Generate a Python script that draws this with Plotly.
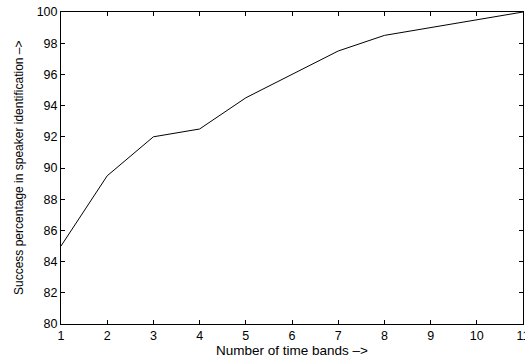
import plotly.graph_objects as go

bands = [1, 2, 3, 4, 5, 6, 7, 8, 9, 10, 11]
success = [85.0, 89.5, 92.0, 92.5, 94.5, 96.0, 97.5, 98.5, 99.0, 99.5, 100.0]
x_ticks = [1, 2, 3, 4, 5, 6, 7, 8, 9, 10, 11]
y_ticks = [80, 82, 84, 86, 88, 90, 92, 94, 96, 98, 100]

FONT = "Liberation Sans, Arial, Helvetica"

fig = go.Figure()
fig.add_trace(go.Scatter(x=bands, y=success, mode="lines",
                         line=dict(color="black", width=1), showlegend=False,
                         hoverinfo="skip"))

axis_common = dict(showline=True, linecolor="black", linewidth=1, mirror="ticks",
                   ticks="inside", ticklen=4, tickcolor="black", tickwidth=1,
                   showgrid=False, zeroline=False, automargin=False,
                   ticklabeloverflow="allow",
                   tickfont=dict(family=FONT, size=12.5, color="black"))

fig.update_layout(
    width=525, height=361,
    margin=dict(l=61, r=2, t=12, b=37),
    paper_bgcolor="white", plot_bgcolor="white",
    font=dict(family=FONT, size=12.5, color="black"),
    xaxis=dict(range=[1, 11], tickvals=x_ticks, ticktext=[str(v) for v in x_ticks],
               **axis_common),
    yaxis=dict(range=[80, 100], tickvals=y_ticks, ticktext=[str(v) for v in y_ticks],
               **axis_common),
    annotations=[
        dict(text="Number of time bands –>", xref="paper", yref="paper",
             x=0.5, y=0, yshift=-26, xanchor="center", yanchor="middle",
             showarrow=False, font=dict(family=FONT, size=13.5, color="black")),
        dict(text="Success percentage in speaker identification –>", xref="paper", yref="paper",
             x=0, y=0.5, xshift=-42, xanchor="center", yanchor="middle", textangle=-90,
             showarrow=False, font=dict(family=FONT, size=12, color="black")),
    ],
)

fig.write_html("out.html", config={"displayModeBar": False},
               post_script="document.body.style.margin='0';document.body.style.overflow='hidden';")
